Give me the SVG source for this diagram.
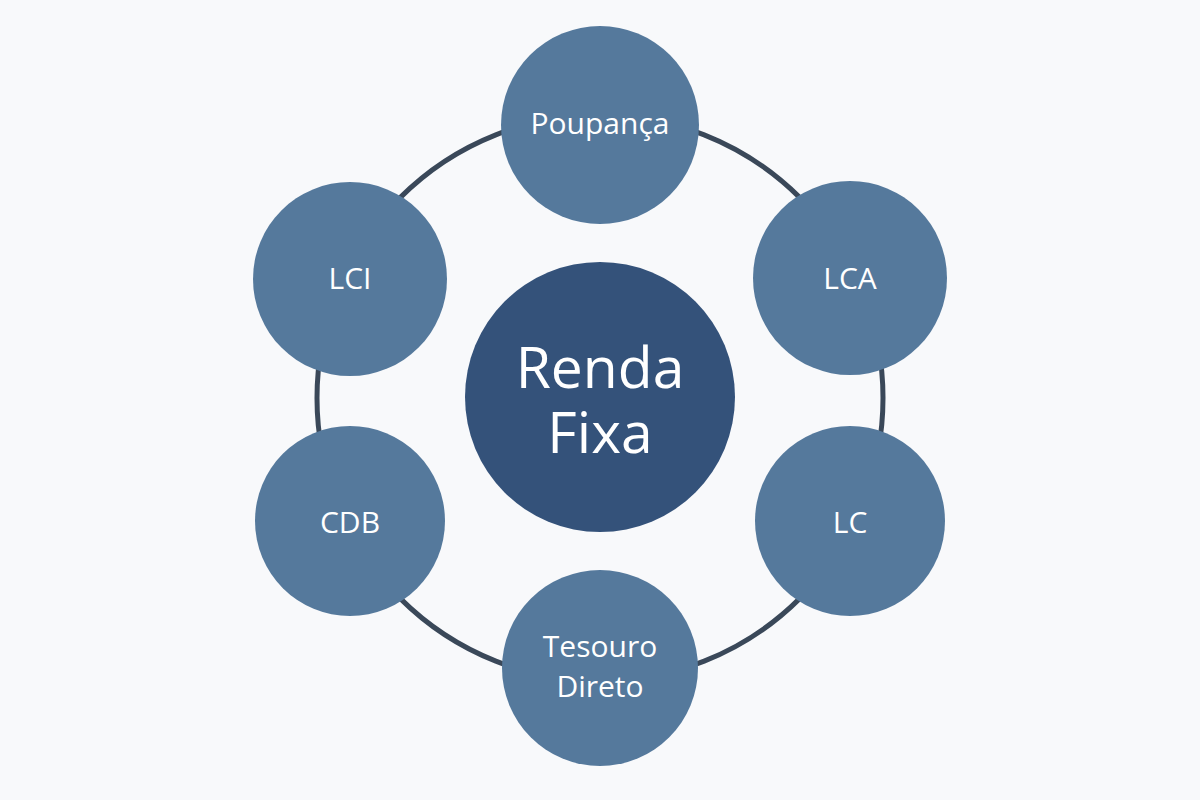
<svg xmlns="http://www.w3.org/2000/svg" width="1200" height="800" viewBox="0 0 1200 800">
<style>
.node { fill: #55799c; }
.hub { fill: #34527a; }
.lbl { font-family: "Open Sans", "Noto Sans", "DejaVu Sans", sans-serif; fill: #ffffff; text-anchor: middle; }
.small { font-size: 30px; }
.big { font-size: 57px; }
.ring { fill: none; stroke: #3a4859; stroke-width: 5; }
</style>
<rect width="1200" height="800" fill="#f8f9fb"/>
<g id="connectors">
  <circle class="ring" cx="600" cy="398" r="283"/>
</g>
<g id="hub">
  <circle class="hub" cx="600" cy="397" r="135"/>
  <text class="lbl big" x="600" y="388">Renda</text>
  <text class="lbl big" x="600" y="453">Fixa</text>
</g>
<g id="poupanca">
  <circle class="node" cx="600" cy="125" r="99"/>
  <text class="lbl small" x="600" y="134">Poupança</text>
</g>
<g id="lca">
  <circle class="node" cx="850" cy="278" r="97"/>
  <text class="lbl small" x="850" y="289">LCA</text>
</g>
<g id="lc">
  <circle class="node" cx="850" cy="521" r="95"/>
  <text class="lbl small" x="850" y="533">LC</text>
</g>
<g id="tesouro">
  <circle class="node" cx="600" cy="668" r="98"/>
  <text class="lbl small" x="600" y="657">Tesouro</text>
  <text class="lbl small" x="600" y="697">Direto</text>
</g>
<g id="cdb">
  <circle class="node" cx="350" cy="521" r="95"/>
  <text class="lbl small" x="350" y="533">CDB</text>
</g>
<g id="lci">
  <circle class="node" cx="350" cy="279" r="97"/>
  <text class="lbl small" x="350" y="289">LCI</text>
</g>
</svg>
